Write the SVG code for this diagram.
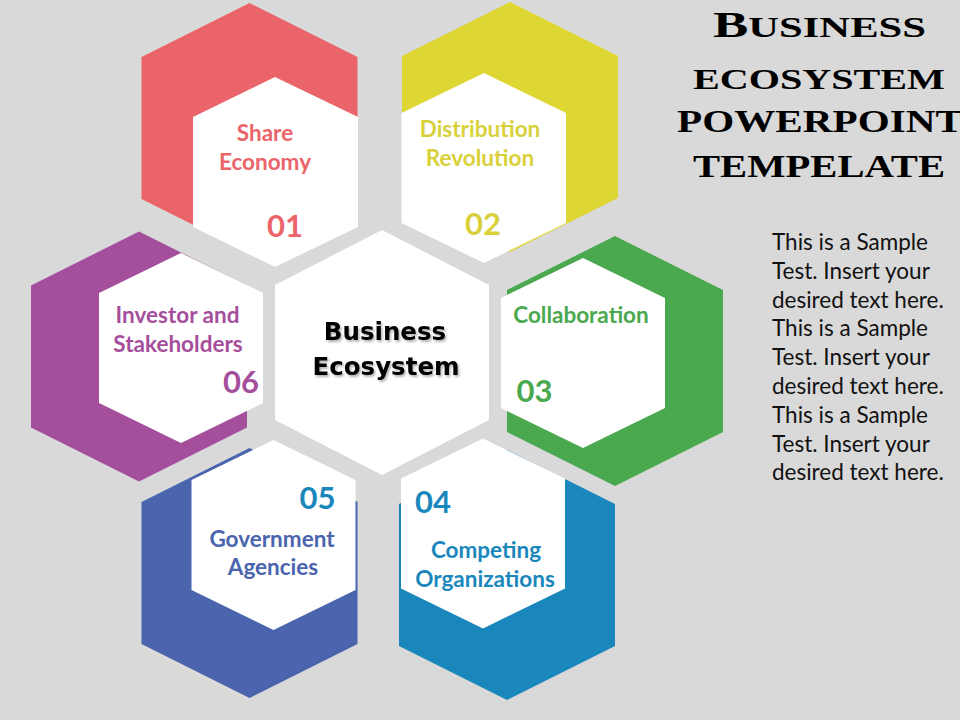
<svg xmlns="http://www.w3.org/2000/svg" width="960" height="720" viewBox="0 0 960 720">
  <defs>
    <filter id="shadow" x="-10%" y="-20%" width="130%" height="150%">
      <feDropShadow dx="1.5" dy="2" stdDeviation="1.2" flood-color="#000" flood-opacity="0.3"/>
    </filter>
  </defs>
  <style>
    .bg { fill: #d9d9d9; }
    .inner { fill: #ffffff; }
    .lbl { font-family: Lato, "Open Sans", "DejaVu Sans", sans-serif; font-weight: bold; font-size: 22.5px; text-anchor: middle; }
    .num { font-family: Lato, "Open Sans", "DejaVu Sans", sans-serif; font-weight: bold; font-size: 31px; text-anchor: middle; }
    .center { font-family: "DejaVu Sans", Verdana, sans-serif; font-weight: bold; font-size: 24.5px; text-anchor: middle; fill: #000; }
    .title { font-family: "Liberation Serif", "Times New Roman", serif; font-weight: bold; fill: #000; }
    .body { font-family: Lato, "Open Sans", sans-serif; font-size: 22.5px; fill: #111; }
    .red { fill: #ea6469; }
    .yellow { fill: #ddd633; }
    .ytext { fill: #d8d13a; }
    .purple { fill: #a54f9c; }
    .green { fill: #4aa84e; }
    .blue { fill: #4a65ae; }
    .teal { fill: #1a87bc; }
  </style>
  <rect class="bg" x="0" y="0" width="960" height="720"/>

  <g id="connectors"></g>

  <g id="node-center">
    <polygon class="inner" points="382,230 489,285 489,420 382,475 275,420 275,285"/>
    <g filter="url(#shadow)">
      <text class="center" x="385" y="340">Business</text>
      <text class="center" x="386" y="375">Ecosystem</text>
    </g>
  </g>

  <g id="node-01">
    <polygon class="red" points="249.5,3 357.5,57 357.5,199 249.5,253 141.5,199 141.5,57"/>
    <polygon class="inner" points="275,77 358,117 358,227 275,267 193,227 193,117"/>
    <text class="lbl red" x="265" y="141">Share</text>
    <text class="lbl red" x="265" y="170">Economy</text>
    <text class="num red" x="285" y="237">01</text>
  </g>

  <g id="node-02">
    <polygon class="yellow" points="510,2 618,56 618,198 510,252 402,198 402,56"/>
    <polygon class="inner" points="484,73 566,113 566,223 484,263 401.5,223 401.5,113"/>
    <text class="lbl ytext" x="480" y="137">Distribution</text>
    <text class="lbl ytext" x="480" y="166">Revolution</text>
    <text class="num ytext" x="483" y="235">02</text>
  </g>

  <g id="node-03">
    <polygon class="green" points="615,236 723,290 723,432 615,486 507,432 507,290"/>
    <polygon class="inner" points="583,258 665,298 665,408 583,448 501,408 501,298"/>
    <text class="lbl green" x="581" y="323">Collaboration</text>
    <text class="num green" x="534.5" y="402">03</text>
  </g>

  <g id="node-04">
    <polygon class="teal" points="507,450 615,504 615,646 507,700 399,646 399,504"/>
    <polygon class="inner" points="483,438.5 565,478.5 565,588.5 483,628.5 401,588.5 401,478.5"/>
    <text class="num teal" x="433" y="513">04</text>
    <text class="lbl teal" x="486" y="558">Competing</text>
    <text class="lbl teal" x="485" y="587">Organizations</text>
  </g>

  <g id="node-05">
    <polygon class="blue" points="249.5,448 357.5,502 357.5,644 249.5,698 141.5,644 141.5,502"/>
    <polygon class="inner" points="273.5,440 355.5,480 355.5,590 273.5,630 191.5,590 191.5,480"/>
    <text class="num teal" x="317.5" y="509">05</text>
    <text class="lbl blue" x="272" y="547">Government</text>
    <text class="lbl blue" x="273" y="575">Agencies</text>
  </g>

  <g id="node-06">
    <polygon class="purple" points="139,231.5 247,285.5 247,427.5 139,481.5 31,427.5 31,285.5"/>
    <polygon class="inner" points="181,253 263,293 263,403 181,443 99,403 99,293"/>
    <text class="lbl purple" x="177.5" y="323">Investor and</text>
    <text class="lbl purple" x="178" y="352">Stakeholders</text>
    <text class="num purple" x="241" y="393">06</text>
  </g>

  <g id="title">
    <text class="title" x="713" y="37" textLength="213" lengthAdjust="spacingAndGlyphs"><tspan font-size="36">B</tspan><tspan font-size="29">USINESS</tspan></text>
    <text class="title" x="693" y="89" font-size="29" textLength="252" lengthAdjust="spacingAndGlyphs">ECOSYSTEM</text>
    <text class="title" x="677" y="132" font-size="31" textLength="286" lengthAdjust="spacingAndGlyphs">POWERPOINT</text>
    <text class="title" x="693" y="177" font-size="31" textLength="252" lengthAdjust="spacingAndGlyphs">TEMPELATE</text>
  </g>

  <g id="body-text">
    <text class="body" x="772" y="250">This is a Sample</text>
    <text class="body" x="772" y="279">Test. Insert your</text>
    <text class="body" x="772" y="307.6">desired text here.</text>
    <text class="body" x="772" y="336.4">This is a Sample</text>
    <text class="body" x="772" y="365.2">Test. Insert your</text>
    <text class="body" x="772" y="394">desired text here.</text>
    <text class="body" x="772" y="422.8">This is a Sample</text>
    <text class="body" x="772" y="451.6">Test. Insert your</text>
    <text class="body" x="772" y="480.4">desired text here.</text>
  </g>
</svg>
